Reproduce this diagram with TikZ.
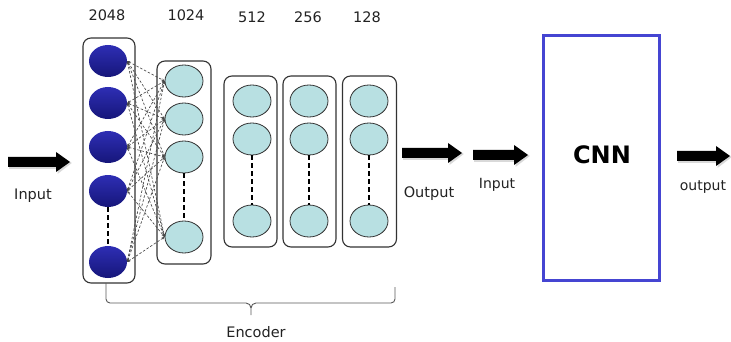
\documentclass[tikz,border=0pt]{standalone}
\usepackage{fontspec}
\setmainfont{DejaVu Sans}
\usetikzlibrary{shapes.geometric,arrows.meta}

\definecolor{ink}{HTML}{222222}
\definecolor{navytop}{HTML}{2E2EB4}
\definecolor{navybot}{HTML}{16167A}
\definecolor{pale}{HTML}{B8E0E2}
\definecolor{cnnblue}{HTML}{4545D2}
\definecolor{frame}{HTML}{333333}

% thick block arrow with a soft grey shadow: {x start}{x tip}{y}
\newcommand{\blockarrow}[3]{%
  \fill[black!15] (#1+1,#3+7) -- (#2-12.5,#3+7) -- (#2-12.5,#3+12)
     -- (#2+1.8,#3+1) -- (#2-12.5,#3-9) -- (#2-12.5,#3-4) -- (#1+1,#3-4) -- cycle;
  \fill[black] (#1,#3+5) -- (#2-14,#3+5) -- (#2-14,#3+10)
     -- (#2,#3) -- (#2-14,#3-10) -- (#2-14,#3-5) -- (#1,#3-5) -- cycle;}

\begin{document}
\begin{tikzpicture}[x=1pt,y=-1pt,
  layerbox/.style={draw=frame,line width=1.1pt,rounded corners=8pt,inner sep=0pt},
  darkunit/.style={ellipse,minimum width=38pt,minimum height=32pt,inner sep=0pt,
    top color=navytop,bottom color=navybot},
  lightunit/.style={ellipse,draw=frame,line width=0.8pt,fill=pale,
    minimum width=38pt,minimum height=32pt,inner sep=0pt},
  gap/.style={line width=1.8pt,dash pattern=on 5pt off 3pt},
  link/.style={draw=black!72,line width=0.65pt,dash pattern=on 2.5pt off 1.8pt,
    {Stealth[length=3pt,width=2.6pt]}-{Stealth[length=3pt,width=2.6pt]}},
  lbl/.style={font=\fontsize{14.5}{17}\selectfont,text=ink,anchor=base,inner sep=0pt},
  sml/.style={font=\fontsize{14}{16}\selectfont,text=ink,anchor=base,inner sep=0pt},
  brace/.style={draw=black!65,line width=0.9pt},
]
\useasboundingbox (0,0) rectangle (731,342);

% layer frames
\node[layerbox,minimum width=52pt,minimum height=245pt] (b2048) at (109,160.5) {};
\node[layerbox,minimum width=54pt,minimum height=203pt] (b1024) at (184,162.5) {};
\node[layerbox,minimum width=53pt,minimum height=171pt] (b512)  at (250.5,161.5) {};
\node[layerbox,minimum width=53pt,minimum height=171pt] (b256)  at (309.5,161.5) {};
\node[layerbox,minimum width=54pt,minimum height=171pt] (b128)  at (369.5,161.5) {};

% layer sizes
\node[lbl] (t2048) at (107,21) {2048};
\node[lbl] (t1024) at (186,21) {1024};
\node[lbl] (t512)  at (252,23) {512};
\node[lbl] (t256)  at (308,23) {256};
\node[lbl] (t128)  at (367,23) {128};

% input layer units
\foreach \i/\y in {1/61,2/103,3/147,4/191,5/262}
  \node[darkunit] (d\i) at (108,\y) {};
\draw[gap] (d4) -- (d5);

% first hidden layer units
\foreach \i/\y in {1/81,2/119,3/157,4/237}
  \node[lightunit] (l\i) at (184,\y) {};
\draw[gap] (l3) -- (l4);

% full connections between the first two layers
\foreach \i in {1,...,5}
  \foreach \j in {1,...,4}
    \draw[link] (d\i.east) -- (l\j.west);

% deeper layers
\foreach \n/\x in {512/252,256/309,128/369}{
  \node[lightunit] (u\n a) at (\x,101) {};
  \node[lightunit] (u\n b) at (\x,139) {};
  \node[lightunit] (u\n c) at (\x,221) {};
  \draw[gap] (u\n b) -- (u\n c);
}

% encoder brace
\coordinate (braceL) at (106,283);
\coordinate (braceR) at (395,287);
\coordinate (braceM) at (251,315);
\draw[brace] (braceL) -- (106,299) to[out=-90,in=180] (110,303) -- (246,303)
  to[out=0,in=90] (251,308) -- (braceM);
\draw[brace] (braceR) -- (395,299) to[out=-90,in=0] (391,303) -- (256,303)
  to[out=180,in=90] (251,308);
\node[lbl] (enc) at (256,337) {Encoder};

% arrows and their labels
\blockarrow{8}{70}{162}
\node[lbl] (in1) at (33,199) {Input};
\blockarrow{402}{462}{153}
\node[lbl] (out1) at (429,197) {Output};
\blockarrow{473}{528}{155}
\node[sml] (in2) at (497,188) {Input};
\blockarrow{677}{730}{156}
\node[sml] (out2) at (703,190) {output};

% classifier block
\node[draw=cnnblue,line width=2.8pt,minimum width=116pt,minimum height=245pt,inner sep=0pt] (cnn) at (601.5,158) {};
\node[font=\fontsize{24}{28}\selectfont\bfseries,text=black,inner sep=0pt] (cnntext) at (602,155) {CNN};
\end{tikzpicture}
\end{document}
